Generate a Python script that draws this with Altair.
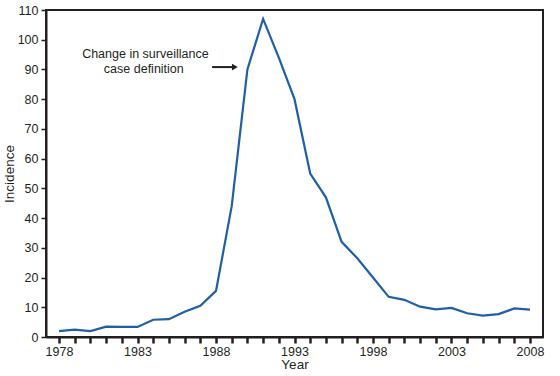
import altair as alt
import pandas as pd

years = list(range(1978, 2009))
incidence = [2.0, 2.5, 2.0, 3.5, 3.4, 3.4, 5.8, 6.0, 8.5, 10.5, 15.5, 44, 90, 107, 94, 80,
             55, 47, 32, 26.5, 20, 13.5, 12.5, 10.2, 9.3, 9.8, 8.0, 7.2, 7.7, 9.6, 9.2]
y_ticks = list(range(0, 111, 10))

df = pd.DataFrame({"Year": years, "Incidence": incidence})

xscale = alt.Scale(domain=[1977.17, 2008.83], nice=False, zero=False)
yscale = alt.Scale(domain=[0, 110], nice=False)

FONT = "Liberation Sans"

xaxis = alt.Axis(values=years, labelExpr="(datum.value - 1978) % 5 == 0 ? datum.value : ''",
                 format="d",
                 title="Year", tickSize=6, tickWidth=2.5, tickColor="#231f20",
                 domainColor="#231f20", domainWidth=2, labelFontSize=12.5,
                 labelColor="#231f20", titleFontSize=13.5, titleFontWeight="normal",
                 titleColor="#231f20", labelPadding=2, titlePadding=0, grid=False,
                 labelFont=FONT, titleFont=FONT, labelFlush=False,
                 labelOverlap=False)
yaxis = alt.Axis(values=y_ticks, title="Incidence", tickSize=5, tickWidth=1.5,
                 tickColor="#231f20", domainColor="#231f20", domainWidth=2,
                 labelFontSize=12.5, labelColor="#231f20", titleFontSize=13.5,
                 titleFontWeight="normal", titleColor="#231f20", labelPadding=3,
                 titlePadding=1, grid=False, labelFont=FONT, titleFont=FONT,
                 labelOverlap=False, labelFlush=False)

line = alt.Chart(df).mark_line(color="#1f5fa6", strokeWidth=2.2).encode(
    x=alt.X("Year:Q", scale=xscale, axis=xaxis),
    y=alt.Y("Incidence:Q", scale=yscale, axis=yaxis),
)

ann_text = pd.DataFrame({"x": [1983.5, 1983.4], "y": [95.3, 90.3],
                         "t": ["Change in surveillance", "case definition"]})
text = alt.Chart(ann_text).mark_text(font=FONT, fontSize=12.5, color="#231f20",
                                     align="center", baseline="middle").encode(
    x=alt.X("x:Q", scale=xscale, axis=xaxis), y=alt.Y("y:Q", scale=yscale, axis=yaxis),
    text="t:N")

arrow_df = pd.DataFrame({"x": [1987.75], "x2": [1989.1], "y": [90.8]})
shaft = alt.Chart(arrow_df).mark_rule(color="#231f20", strokeWidth=2).encode(
    x=alt.X("x:Q", scale=xscale, axis=xaxis), x2="x2:Q",
    y=alt.Y("y:Q", scale=yscale, axis=yaxis))
head_df = pd.DataFrame({"x": [1989.2], "y": [90.8]})
head = alt.Chart(head_df).mark_point(shape="triangle-right", filled=True, size=45,
                                     color="#231f20", opacity=1).encode(
    x=alt.X("x:Q", scale=xscale, axis=xaxis), y=alt.Y("y:Q", scale=yscale, axis=yaxis))

chart = alt.layer(line, text, shaft, head).properties(
    width=497, height=327,
    padding={"left": 46, "top": 10, "right": 17, "bottom": 39},
    autosize=alt.AutoSizeParams(type="none"),
    background="white",
).configure_view(stroke="#231f20", strokeWidth=2)

chart.save("out.html", embed_options={"renderer": "svg", "actions": False})
